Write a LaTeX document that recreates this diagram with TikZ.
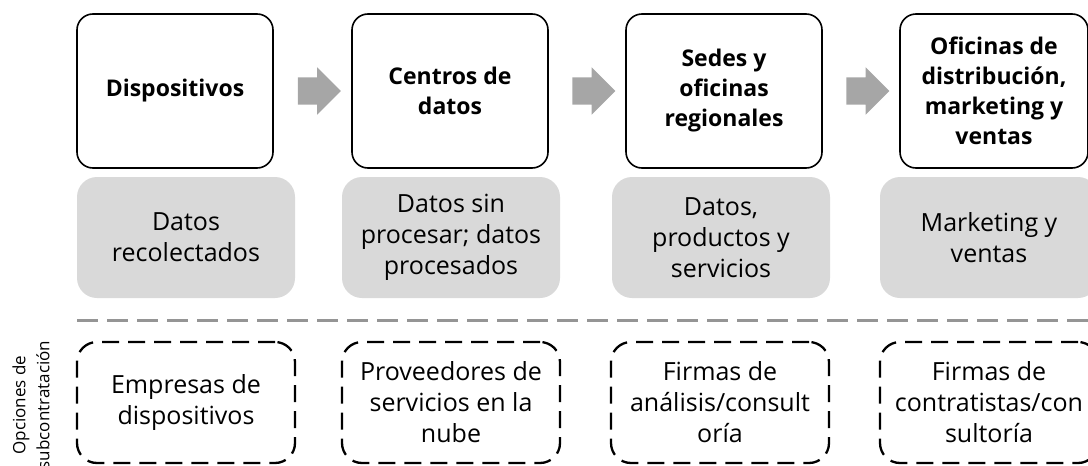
\documentclass[tikz,border=0pt]{standalone}
\usepackage{fontspec}
\setmainfont{Open Sans}
\usetikzlibrary{shapes.arrows,calc}
\definecolor{grisdato}{HTML}{D9D9D9}
\definecolor{grisflecha}{HTML}{A6A6A6}
\definecolor{griscorte}{HTML}{959595}

\begin{document}
\begin{tikzpicture}[x=1pt,y=-1pt,
  etapa/.style={draw,line width=1.6pt,rounded corners=16pt,minimum width=196pt,minimum height=154pt,align=center,font=\fontsize{23}{30}\selectfont\bfseries},
  dato/.style={fill=grisdato,rounded corners=20pt,minimum width=218pt,minimum height=121pt,align=center,font=\fontsize{25}{31}\selectfont},
  opcion/.style={draw,line width=2.3pt,dash pattern=on 17pt off 9pt,rounded corners=20pt,minimum width=218pt,minimum height=121pt,align=center,font=\fontsize{25}{31}\selectfont},
  flecha/.style={single arrow,fill=grisflecha,inner xsep=0pt,inner ysep=13.5pt,minimum height=43pt,single arrow head extend=10pt},
  corte/.style={draw=griscorte,line width=3pt,dash pattern=on 21pt off 9pt}]
\path[use as bounding box,clip] (0,0) rectangle (1088,466);
\node[etapa] (dev) at (175,91) {Dispositivos};
\node[etapa] (cen) at (450,91) {Centros de\\datos};
\node[etapa] (sed) at (724,91) {Sedes y\\oficinas\\regionales};
\node[etapa,minimum width=188pt] (ofi) at (994,91) {Oficinas de\\distribución,\\marketing y\\ventas};
\node[flecha] (f1) at ($(dev.east)!.5!(cen.west)$) {};
\node[flecha] (f2) at ($(cen.east)!.5!(sed.west)$) {};
\node[flecha] (f3) at ($(sed.east)!.5!(ofi.west)$) {};
\node[dato] (d1) at (186,237.5) {Datos\\recolectados};
\node[dato] (d2) at (451,237.5) {Datos sin\\procesar; datos\\procesados};
\node[dato] (d3) at (721,237.5) {Datos,\\productos y\\servicios};
\node[dato] (d4) at (989,237.5) {Marketing y\\ventas};
\coordinate (c0) at (77,320);
\coordinate (c1) at (1088,320);
\draw[corte] (c0) -- (c1);
\node[rotate=90,align=center,font=\fontsize{17}{24}\selectfont] (sub) at (31,405) {Opciones de\\subcontratación};
\node[opcion] (o1) at (186,402.5) {Empresas de\\dispositivos};
\node[opcion] (o2) at (451,402.5) {Proveedores de\\servicios en la\\nube};
\node[opcion] (o3) at (720,402.5) {Firmas de\\análisis/consult\\oría};
\node[opcion] (o4) at (989,402.5) {Firmas de\\contratistas/con\\sultoría};
\end{tikzpicture}
\end{document}
